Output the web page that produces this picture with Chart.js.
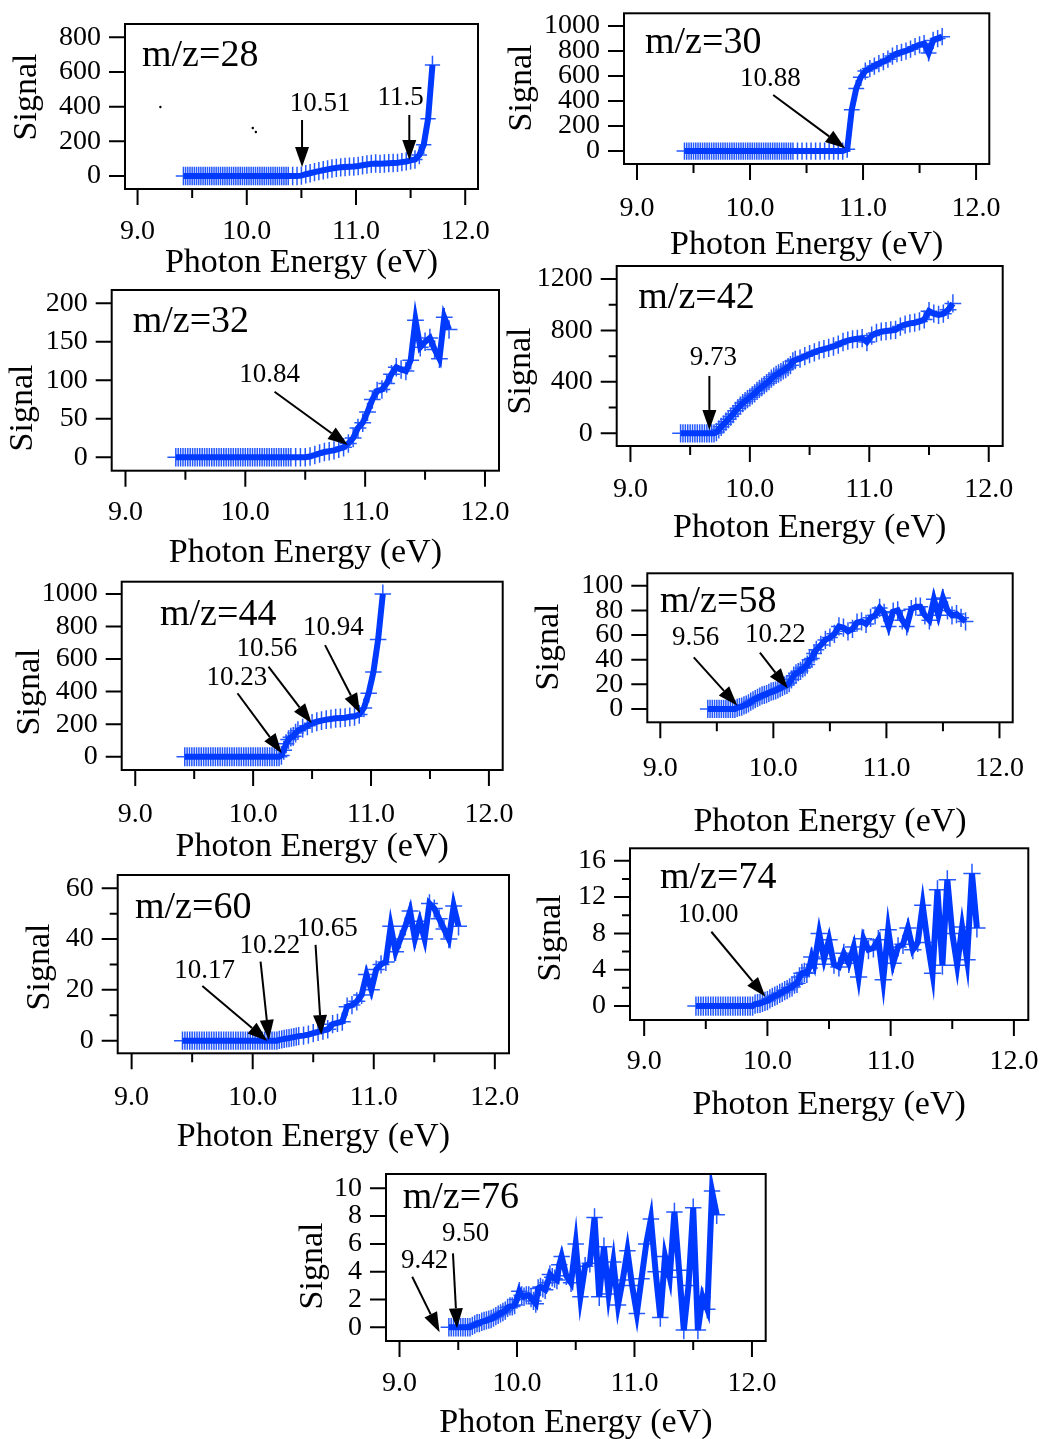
<!DOCTYPE html>
<html><head><meta charset="utf-8">
<script src="https://cdn.jsdelivr.net/npm/chart.js@4/dist/chart.umd.min.js"></script>
<style>
html,body{margin:0;padding:0;background:#fff;width:1043px;height:1439px;overflow:hidden;position:relative}
canvas.p{position:absolute}
</style></head><body>
<script>
// ---------------- DATA ----------------
const energies = [
 9.42,9.44,9.46,9.48,9.50,9.52,9.54,9.56,9.58,9.60,
 9.62,9.64,9.66,9.68,9.70,9.72,9.74,9.76,9.78,9.80,
 9.82,9.84,9.86,9.88,9.90,9.92,9.94,9.96,9.98,10.00,
 10.02,10.04,10.06,10.08,10.10,10.12,10.14,10.16,10.18,10.20,
 10.22,10.24,10.26,10.28,10.30,10.32,10.34,10.36,10.38,
 10.42,10.46,10.50,10.54,10.58,10.62,10.66,10.70,10.74,10.78,
 10.82,10.86,10.90,10.94,10.98,11.02,11.06,11.10,11.14,11.18,
 11.22,11.26,11.30,11.34,11.38,11.42,11.46,11.50,11.54,11.58,
 11.62,11.66,11.70];

const signal28 = [
 0,0,0,0,0,0,0,0,0,0, 0,0,0,0,0,0,0,0,0,0, 0,0,0,0,0,0,0,0,0,0, 0,0,0,0,0,0,0,0,0,0, 0,0,0,0,0,0,0,0,0,
 0,0,2,10,16,22,28,33,38,43, 47,50,52,54,55,58,62,66,70,72, 70,72,74,75,76,80,84,90,95,121, 180,330,640];
const signal30 = [
 0,0,0,0,0,0,0,0,0,0, 0,0,0,0,0,0,0,0,0,0, 0,0,0,0,0,0,0,0,0,0, 0,0,0,0,0,0,0,0,0,0, 0,0,0,0,0,0,0,0,0,
 0,0,0,0,0,0,0,0,0,0, 0,15,330,500,590,640,660,680,700,715, 735,760,780,790,800,815,835,850,860,785, 885,900,915];
const signal32 = [
 0,0,0,0,0,0,0,0,0,0, 0,0,0,0,0,0,0,0,0,0, 0,0,0,0,0,0,0,0,0,0, 0,0,0,0,0,0,0,0,0,0, 0,0,0,0,0,0,0,0,0,
 0,0,0,1,3,5,7,8,9,11, 13,18,25,38,45,59,75,86,88,96, 108,117,114,112,126,178,143,150,155,140, 128,182,166];
const signal42 = [
 0,0,0,0,0,0,0,0,0,0, 0,0,0,0,0,10,30,50,70,90, 110,130,150,175,195,215,235,250,265,280, 295,310,330,345,360,375,390,405,425,440, 455,465,475,490,500,515,530,560,570,
 580,600,615,630,645,655,665,675,690,710, 720,730,735,740,710,760,780,790,795,800, 805,830,845,855,860,870,885,950,930,920, 930,960,1010];
const signal44 = [
 0,0,0,0,0,0,0,0,0,0, 0,0,0,0,0,0,0,0,0,0, 0,0,0,0,0,0,0,0,0,0, 0,0,0,0,0,0,0,0,0,0, 0,8,40,80,105,120,125,145,160,
 175,190,205,215,222,228,232,236,238,240, 245,248,260,300,390,520,720,1000];
const signal58 = [
 0,0,0,0,0,0,0,0,0,0, 0,0,0,1,1.5,2,3,3.5,4.5,6, 7,8,9,10,11,11.5,12,13,14,14.5, 15,16,17,18,19,19.5,21,24,27,29, 30,31,33,34,36,40,41,45,48,
 52,56,58,61,67,66,63,65,70,71, 69,74,76,82,78,67,79,80,72,67, 81,83,83,76,72,89,76,90,80,76, 77,74,71];
const signal60 = [
 0,0,0,0,0,0,0,0,0,0, 0,0,0,0,0,0,0,0,0,0, 0,0,0,0,0,0,0,0,0,0, 0,0,0,0,0,0,0,0,0,0, 0.3,0.5,0.7,0.9,1.0,1.2,1.4,1.6,1.8,
 2.0,2.4,3.0,3.5,4.0,4.5,6.5,7.0,7.5,13.4, 14,15.5,18,26,20,28,30,31,45,35, 40,45,51,40,47,40,54,52,48,44, 40,53,45];
const signal74 = [
 0,0,0,0,0,0,0,0,0,0, 0,0,0,0,0,0,0,0,0,0, 0,0,0,0,0.2,0.25,0.3,0.4,0.5,0.6, 0.8,0.95,1.1,1.2,1.4,1.5,1.7,1.8,2.0,2.1, 2.4,2.5,3.2,3.6,3.7,3.6,4.2,5.4,4.6,
 8.0,5.2,7.3,4.6,4.3,5.8,4.7,6.5,3.2,7.4, 6.2,6.4,7.3,2.9,8.4,4.7,6.5,6.8,8.6,6.2, 7.0,11.1,7.0,3.6,12.8,4.5,13.9,8.0,4.5,8.7, 5.1,14.6,8.6];
const signal76 = [
 0,0,0,0,0,0,0,0,0,0, 0.1,0.2,0.3,0.3,0.4,0.45,0.5,0.55,0.6,0.7, 0.8,0.9,1.0,1.1,1.2,1.4,1.5,1.5,1.6,2.0, 2.6,2.3,2.2,2.3,2.3,2.1,1.9,1.7,2.8,2.9, 2.8,2.7,3.2,3.8,3.6,3.5,3.4,4.5,5.1,
 3.7,3.2,6.0,2.2,4.4,4.6,7.9,2.2,5.8,2.4, 4.7,1.6,3.4,5.5,3.0,1.0,3.5,6.0,7.8,4.0, 0.7,5.1,3.6,8.3,4.1,-0.2,3.0,8.6,-0.2,2.2, 1.3,9.8,8.1];

// stray specks visible inside the m/z=28 panel
const specks28X = [9.209, 10.055, 10.083];
const specks28Y = [398, 277, 254];

const panelLabels = ['m/z=28','m/z=30','m/z=32','m/z=42','m/z=44','m/z=58','m/z=60','m/z=74','m/z=76'];
const yErrors = [53, 69, 12, 71, 58, 7.4, 3.6, 1.06, 0.66];
const xError = 0.07;

const xTickValues = [9, 9.5, 10, 10.5, 11, 11.5, 12];
const xTickLabels = ['9.0', '', '10.0', '', '11.0', '', '12.0'];

const yTicks28 = [0,200,400,600,800];        const yLabels28 = ['0','200','400','600','800'];
const yTicks30 = [0,200,400,600,800,1000];   const yLabels30 = ['0','200','400','600','800','1000'];
const yTicks32 = [0,50,100,150,200];         const yLabels32 = ['0','50','100','150','200'];
const yTicks42 = [0,200,400,600,800,1000,1200]; const yLabels42 = ['0','','400','','800','','1200'];
const yTicks44 = [0,200,400,600,800,1000];   const yLabels44 = ['0','200','400','600','800','1000'];
const yTicks58 = [0,20,40,60,80,100];        const yLabels58 = ['0','20','40','60','80','100'];
const yTicks60 = [0,10,20,30,40,50,60];      const yLabels60 = ['0','','20','','40','','60'];
const yTicks74 = [0,2,4,6,8,10,12,14,16];    const yLabels74 = ['0','','4','','8','','12','','16'];
const yTicks76 = [0,2,4,6,8,10];             const yLabels76 = ['0','2','4','6','8','10'];

// annotations (data coordinates): text position and arrow tail -> tip
const notes28 = [
 {t:'10.51', tx:10.672, ty:375, x1:10.506, y1:323, x2:10.506, y2:52},
 {t:'11.5',  tx:11.408, ty:410, x1:11.488, y1:352, x2:11.488, y2:92}];
const notes30 = [{t:'10.88', tx:10.179, ty:520, x1:10.205, y1:448, x2:10.842, y2:22}];
const notes32 = [{t:'10.84', tx:10.2025, ty:98.2, x1:10.244, y1:85.2, x2:10.855, y2:16}];
const notes42 = [{t:'9.73', tx:9.694, ty:531, x1:9.661, y1:446, x2:9.661, y2:26}];
const notes44 = [
 {t:'10.23', tx:9.862, ty:441, x1:9.867, y1:390, x2:10.243, y2:21},
 {t:'10.56', tx:10.116, ty:619, x1:10.130, y1:553, x2:10.497, y2:205},
 {t:'10.94', tx:10.680, ty:748, x1:10.610, y1:686, x2:10.907, y2:267}];
const notes58 = [
 {t:'9.56',  tx:9.312, ty:51.9, x1:9.296, y1:41.9, x2:9.682, y2:2.7},
 {t:'10.22', tx:10.018, ty:54.6, x1:9.881, y1:45.7, x2:10.127, y2:16.8}];
const notes60 = [
 {t:'10.17', tx:9.603, ty:24.6, x1:9.584, y1:21.5, x2:10.121, y2:-0.1},
 {t:'10.22', tx:10.142, ty:34.4, x1:10.065, y1:31.1, x2:10.134, y2:0.3},
 {t:'10.65', tx:10.616, ty:41.2, x1:10.519, y1:37.7, x2:10.567, y2:2.2}];
const notes74 = [{t:'10.00', tx:9.518, ty:9.28, x1:9.545, y1:8.18, x2:9.984, y2:1.02}];
const notes76 = [
 {t:'9.42', tx:9.213, ty:4.24, x1:9.108, y1:3.64, x2:9.341, y2:-0.36},
 {t:'9.50', tx:9.563, ty:6.23, x1:9.455, y1:5.32, x2:9.489, y2:-0.07}];

const seriesList = [signal28, signal30, signal32, signal42, signal44, signal58, signal60, signal74, signal76];
const yTickList = [yTicks28, yTicks30, yTicks32, yTicks42, yTicks44, yTicks58, yTicks60, yTicks74, yTicks76];
const yLabelList = [yLabels28, yLabels30, yLabels32, yLabels42, yLabels44, yLabels58, yLabels60, yLabels74, yLabels76];
const notesList = [notes28, notes30, notes32, notes42, notes44, notes58, notes60, notes74, notes76];

// ---------------- LAYOUT (page pixels) ----------------
const X_MIN = 8.885, X_MAX = 12.117;
const layouts = [
 {box:[125,24,478,189],        ymin:-75,   ymax:876.7, sigX:27,    sigY:97,   titleY:263,    labY:43,   lab:[17,42]},
 {box:[624,13.3,989.3,164],    ymin:-104,  ymax:1101.6,sigX:522,   sigY:88,   titleY:245,    labY:45,   lab:[21,39.7]},
 {box:[111.7,290,499,470.7],   ymin:-17.4, ymax:217.3, sigX:23,    sigY:408,  titleY:553,    labY:42.3, lab:[21,41.7]},
 {box:[616.7,266,1002.7,446],  ymin:-98.8, ymax:1301,  sigX:520.7, sigY:371,  titleY:528.3,  labY:43.3, lab:[21.6,42.3]},
 {box:[121.7,581.7,502.7,770], ymin:-81.7, ymax:1075.6,sigX:30,    sigY:692,  titleY:846.7,  labY:45,   lab:[38.3,43.3]},
 {box:[647.3,573.3,1012.7,722.3], ymin:-10.8, ymax:110.1, sigX:549.3, sigY:647, titleY:821.7, labY:46, lab:[12.7,38.4]},
 {box:[117.7,875,509,1053.3],  ymin:-4.96, ymax:65.2,  sigX:40,    sigY:967,  titleY:1136.7, labY:44.4, lab:[17.3,43.3]},
 {box:[630,848.3,1028.3,1020], ymin:-1.54, ymax:17.37, sigX:550.7, sigY:938,  titleY:1105,   labY:41.7, lab:[30,40]},
 {box:[386,1174,765.7,1341],   ymin:-0.986,ymax:11.03, sigX:312.7, sigY:1266, titleY:1423.3, labY:42.3, lab:[16.7,34.3]}
];

const FONT = "'Liberation Serif','Times New Roman',Times,serif";
const LINE_COLOR = 'rgb(0,58,255)';
const BAR_COLOR = 'rgba(25,80,255,0.95)';
const TICK_FONT = 28, TITLE_FONT = 34, LABEL_FONT = 38, NOTE_FONT = 27;

function drawArrow(ctx, x1, y1, x2, y2) {
  const ang = Math.atan2(y2 - y1, x2 - x1);
  const L = 20, W = 7;
  const bx = x2 - L * Math.cos(ang), by = y2 - L * Math.sin(ang);
  ctx.beginPath(); ctx.moveTo(x1, y1); ctx.lineTo(bx, by);
  ctx.lineWidth = 2; ctx.strokeStyle = '#000'; ctx.stroke();
  ctx.beginPath(); ctx.moveTo(x2, y2);
  ctx.lineTo(bx + W * Math.sin(ang), by - W * Math.cos(ang));
  ctx.lineTo(bx - W * Math.sin(ang), by + W * Math.cos(ang));
  ctx.closePath(); ctx.fillStyle = '#000'; ctx.fill();
}

function makePlugin(idx, cl, ct) {
  const yTicks = yTickList[idx], yLabels = yLabelList[idx], notes = notesList[idx];
  const lay = layouts[idx], yErr = yErrors[idx];
  return {
    id: 'igor' + idx,
    beforeDatasetsDraw(chart) {
      const {ctx, chartArea: a, scales: {x, y}} = chart;
      ctx.save();
      ctx.beginPath(); ctx.rect(a.left, a.top, a.right - a.left, a.bottom - a.top); ctx.clip();
      ctx.strokeStyle = BAR_COLOR; ctx.lineWidth = 1.5;
      ctx.beginPath();
      for (const pt of chart.data.datasets[0].data) {
        const px = x.getPixelForValue(pt.x), py = y.getPixelForValue(pt.y);
        ctx.moveTo(px, y.getPixelForValue(pt.y - yErr)); ctx.lineTo(px, y.getPixelForValue(pt.y + yErr));
        ctx.moveTo(x.getPixelForValue(pt.x - xError), py); ctx.lineTo(x.getPixelForValue(pt.x + xError), py);
      }
      ctx.stroke();
      ctx.restore();
    },
    afterDraw(chart) {
      const {ctx, chartArea: a, scales: {x, y}} = chart;
      ctx.save();
      ctx.strokeStyle = '#000'; ctx.lineWidth = 2;
      ctx.strokeRect(a.left, a.top, a.right - a.left, a.bottom - a.top);
      ctx.beginPath();
      xTickValues.forEach((v, i) => {
        const px = x.getPixelForValue(v), len = xTickLabels[i] ? 16 : 9;
        ctx.moveTo(px, a.bottom); ctx.lineTo(px, a.bottom + len);
      });
      yTicks.forEach((v, i) => {
        const py = y.getPixelForValue(v), len = yLabels[i] ? 16 : 8;
        ctx.moveTo(a.left, py); ctx.lineTo(a.left - len, py);
      });
      ctx.stroke();
      ctx.fillStyle = '#000';
      // y-axis title
      ctx.save();
      ctx.translate(lay.sigX - cl, lay.sigY - ct);
      ctx.rotate(-Math.PI / 2);
      ctx.font = TITLE_FONT + 'px ' + FONT;
      ctx.textAlign = 'center'; ctx.textBaseline = 'middle';
      ctx.fillText('Signal', 0, 0);
      ctx.restore();
      // panel label
      ctx.font = LABEL_FONT + 'px ' + FONT;
      ctx.textAlign = 'left'; ctx.textBaseline = 'alphabetic';
      ctx.fillText(panelLabels[idx], a.left + lay.lab[0], a.top + lay.lab[1]);
      // annotations
      ctx.font = NOTE_FONT + 'px ' + FONT;
      ctx.textAlign = 'center';
      for (const n of notes) {
        ctx.fillStyle = '#000';
        ctx.fillText(n.t, x.getPixelForValue(n.tx), y.getPixelForValue(n.ty));
        drawArrow(ctx, x.getPixelForValue(n.x1), y.getPixelForValue(n.y1),
                       x.getPixelForValue(n.x2), y.getPixelForValue(n.y2));
      }
      ctx.restore();
    }
  };
}

layouts.forEach((lay, idx) => {
  const [L, T, R, B] = lay.box;
  const series = seriesList[idx];
  const cl = Math.floor(lay.sigX - TITLE_FONT / 2 - 2);
  const ct = Math.floor(T - 60);
  const YW = L - cl;
  const PT = T - ct;
  const XH = lay.titleY + TITLE_FONT / 2 + 10 - B;
  const PR = 80;
  const W = Math.ceil(R - cl + PR);
  const H = Math.ceil(B - ct + XH);
  const padR = W - (R - cl);
  const padB = H - (B - ct + XH);

  const c = document.createElement('canvas');
  c.className = 'p';
  c.width = W; c.height = H;
  c.style.left = cl + 'px'; c.style.top = ct + 'px';
  c.style.width = W + 'px'; c.style.height = H + 'px';
  document.body.appendChild(c);

  const pts = series.map((v, k) => ({x: energies[k], y: v}));
  const yTicks = yTickList[idx], yLabels = yLabelList[idx];
  const datasets = [{
    label: panelLabels[idx], data: pts,
    borderColor: LINE_COLOR, borderWidth: 6, pointRadius: 0, tension: 0, fill: false
  }];
  if (idx === 0) {
    datasets.push({
      label: 'specks', data: specks28X.map((v, k) => ({x: v, y: specks28Y[k]})),
      showLine: false, pointRadius: 1.2, pointBackgroundColor: '#000', pointBorderWidth: 0
    });
  }

  new Chart(c, {
    type: 'line',
    data: {datasets},
    options: {
      responsive: false, animation: false, devicePixelRatio: 1, events: [],
      layout: {padding: {left: 0, top: PT, right: padR, bottom: padB}},
      plugins: {legend: {display: false}, tooltip: {enabled: false}, title: {display: false}},
      scales: {
        x: {
          type: 'linear', position: 'bottom', min: X_MIN, max: X_MAX,
          afterBuildTicks: s => { s.ticks = xTickValues.map(v => ({value: v})); },
          afterFit: s => { s.height = XH; },
          grid: {display: false, drawTicks: false}, border: {display: false},
          ticks: {autoSkip: false, maxRotation: 0, minRotation: 0, padding: lay.labY - TICK_FONT * 0.6,
                  color: '#000', font: {family: FONT, size: TICK_FONT, lineHeight: 1.2},
                  callback: (v, i) => xTickLabels[i]},
          title: {display: true, text: 'Photon Energy (eV)', color: '#000',
                  font: {family: FONT, size: TITLE_FONT, lineHeight: 1}, padding: {top: 0, bottom: 10}}
        },
        y: {
          type: 'linear', position: 'left', min: lay.ymin, max: lay.ymax,
          afterBuildTicks: s => { s.ticks = yTicks.map(v => ({value: v})); },
          afterFit: s => { s.width = YW; },
          grid: {display: false, drawTicks: false}, border: {display: false},
          ticks: {autoSkip: false, padding: 24, color: '#000',
                  font: {family: FONT, size: TICK_FONT, lineHeight: 1.2},
                  callback: (v, i) => yLabels[i]},
          title: {display: false, text: 'Signal'}
        }
      }
    },
    plugins: [makePlugin(idx, cl, ct)]
  });
});
</script>
</body></html>
